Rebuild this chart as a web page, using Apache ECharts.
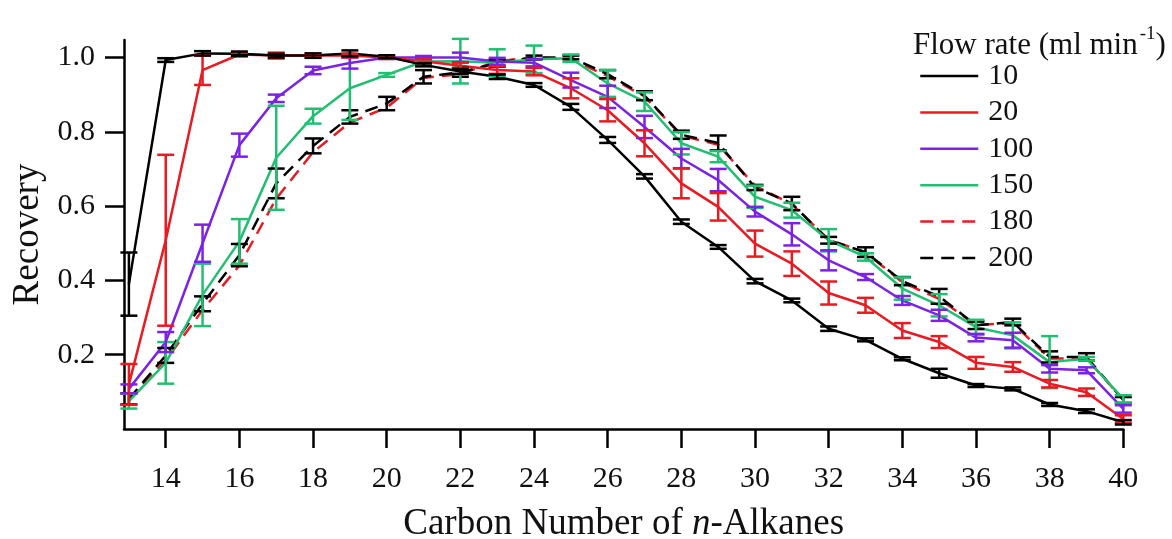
<!DOCTYPE html>
<html>
<head>
<meta charset="utf-8">
<script src="https://cdn.jsdelivr.net/npm/echarts@6.0.0/dist/echarts.min.js"></script>
<style>
  html, body { margin: 0; padding: 0; background: #fff; }
  #chart { width: 1172px; height: 539px; }
</style>
</head>
<body>
<div id="chart"></div>
<script>
// carbon numbers
var carbon = [13, 14, 15, 16, 17, 18, 19, 20, 21, 22, 23, 24, 25, 26, 27, 28, 29, 30, 31, 32, 33, 34, 35, 36, 37, 38, 39, 40];

// recovery for each flow rate (ml/min)
var rec10 = [0.39, 0.993, 1.011, 1.01, 1.005, 1.005, 1.011, 1.002, 0.98, 0.962, 0.948, 0.926, 0.867, 0.778, 0.68, 0.558, 0.49, 0.398, 0.346, 0.27, 0.24, 0.189, 0.15, 0.117, 0.108, 0.066, 0.048, 0.018];
var err10 = [0.085, 0.005, 0.006, 0.006, 0.005, 0.006, 0.008, 0.004, 0.004, 0.006, 0.006, 0.005, 0.008, 0.008, 0.006, 0.006, 0.005, 0.006, 0.005, 0.006, 0.004, 0.004, 0.012, 0.004, 0.004, 0.004, 0.005, 0.006];

var rec20 = [0.12, 0.508, 0.966, 1.008, 1.005, 1.005, 1.005, 1.0, 0.99, 0.978, 0.966, 0.962, 0.917, 0.858, 0.769, 0.661, 0.598, 0.499, 0.445, 0.366, 0.333, 0.265, 0.234, 0.178, 0.167, 0.122, 0.099, 0.027];
var err20 = [0.055, 0.23, 0.04, 0.005, 0.008, 0.005, 0.005, 0.004, 0.005, 0.008, 0.01, 0.01, 0.027, 0.03, 0.035, 0.04, 0.037, 0.035, 0.033, 0.031, 0.02, 0.02, 0.016, 0.016, 0.013, 0.01, 0.01, 0.01];

var rec100 = [0.108, 0.234, 0.5, 0.764, 0.89, 0.965, 0.985, 1.0, 1.0, 1.0, 0.989, 0.986, 0.939, 0.894, 0.813, 0.728, 0.67, 0.585, 0.524, 0.454, 0.409, 0.346, 0.306, 0.246, 0.239, 0.162, 0.158, 0.054];
var err100 = [0.012, 0.027, 0.05, 0.031, 0.01, 0.01, 0.015, 0.004, 0.004, 0.013, 0.01, 0.01, 0.02, 0.03, 0.03, 0.026, 0.03, 0.013, 0.03, 0.027, 0.008, 0.012, 0.015, 0.01, 0.02, 0.01, 0.008, 0.01];

var rec150 = [0.075, 0.178, 0.361, 0.505, 0.73, 0.842, 0.917, 0.953, 0.989, 0.99, 0.986, 0.995, 0.998, 0.93, 0.881, 0.769, 0.733, 0.625, 0.589, 0.508, 0.463, 0.378, 0.333, 0.274, 0.252, 0.18, 0.189, 0.081];
var err150 = [0.02, 0.056, 0.084, 0.06, 0.14, 0.02, 0.085, 0.005, 0.005, 0.06, 0.036, 0.037, 0.01, 0.036, 0.025, 0.03, 0.015, 0.03, 0.02, 0.03, 0.01, 0.03, 0.03, 0.02, 0.035, 0.07, 0.005, 0.01];

var rec180 = [0.08, 0.185, 0.32, 0.44, 0.62, 0.745, 0.825, 0.865, 0.945, 0.955, 0.99, 1.0, 0.995, 0.95, 0.895, 0.79, 0.765, 0.655, 0.605, 0.51, 0.475, 0.395, 0.35, 0.28, 0.285, 0.19, 0.19, 0.078];

var rec200 = [0.081, 0.198, 0.337, 0.468, 0.661, 0.762, 0.84, 0.876, 0.948, 0.96, 0.985, 1.0, 1.0, 0.955, 0.897, 0.792, 0.77, 0.65, 0.607, 0.508, 0.476, 0.398, 0.357, 0.279, 0.288, 0.194, 0.194, 0.078];
var err200 = [0.015, 0.02, 0.02, 0.03, 0.04, 0.02, 0.018, 0.018, 0.018, 0.012, 0.01, 0.005, 0.005, 0.011, 0.012, 0.011, 0.02, 0.007, 0.018, 0.009, 0.013, 0.011, 0.02, 0.01, 0.009, 0.015, 0.01, 0.008];

var xTicks = [14, 16, 18, 20, 22, 24, 26, 28, 30, 32, 34, 36, 38, 40];
var yTicks = [0.2, 0.4, 0.6, 0.8, 1.0];

var FONT = '"Liberation Serif", "Times New Roman", serif';
var RED = '#ea1a22';
var PURPLE = '#7b22e4';
var GREEN = '#22bf72';

function pairs(vals) {
    return carbon.map((c, i) => [c, vals[i]]);
}

function lineSeries(name, vals, color, dashed) {
    return {
        name: name,
        type: 'line',
        data: pairs(vals),
        symbol: 'none',
        z: 3,
        lineStyle: { color: color, width: 2.5, type: dashed ? [13, 8] : 'solid' },
        itemStyle: { color: color }
    };
}

function errSeries(name, vals, errs, color) {
    var data = carbon.map((c, i) => [c, vals[i] - errs[i], vals[i] + errs[i]]);
    return {
        name: name + ' err',
        type: 'custom',
        silent: true,
        z: 4,
        data: data,
        encode: { x: 0, y: [1, 2] },
        renderItem: function (params, api) {
            var x = api.value(0);
            var top = api.coord([x, api.value(2)]);
            var bot = api.coord([x, api.value(1)]);
            var w = 8.5;
            var style = { stroke: color, lineWidth: 2.5 };
            return {
                type: 'group',
                children: [
                    { type: 'line', shape: { x1: top[0], y1: top[1], x2: bot[0], y2: bot[1] }, style: style },
                    { type: 'line', shape: { x1: top[0] - w, y1: top[1], x2: top[0] + w, y2: top[1] }, style: style },
                    { type: 'line', shape: { x1: bot[0] - w, y1: bot[1], x2: bot[0] + w, y2: bot[1] }, style: style }
                ]
            };
        }
    };
}

var echart = echarts.init(document.getElementById('chart'));
var option = {
    animation: false,
    backgroundColor: '#fff',
    title: {
        text: '{a|Flow rate (ml min}{s|-1}{a|)}',
        left: 908,
        top: 20,
        textStyle: {
            fontWeight: 'normal',
            rich: {
                a: { fontFamily: FONT, fontSize: 31, fontWeight: 'normal', color: '#111' },
                s: { fontFamily: FONT, fontSize: 19, fontWeight: 'normal', color: '#111', padding: [0, 0, 22, 2] }
            }
        }
    },
    legend: {
        data: ['10', '20', '100', '150', '180', '200'],
        orient: 'vertical',
        left: 914,
        top: 56,
        itemWidth: 58,
        itemHeight: 14,
        itemGap: 6.4,
        itemStyle: { opacity: 0 },
        lineStyle: { width: 2.5 },
        textStyle: { fontFamily: FONT, fontSize: 30, color: '#111', lineHeight: 30, padding: [0, 0, 0, 5] }
    },
    grid: { left: 124, right: 48.7, top: 40, bottom: 110, containLabel: false, outerBoundsMode: 'none' },
    xAxis: {
        type: 'value',
        min: 12.867,
        max: 40,
        name: 'Carbon Number of {i|n}-Alkanes',
        nameLocation: 'middle',
        nameGap: 77,
        nameTextStyle: {
            fontFamily: FONT, fontSize: 37, color: '#111',
            rich: { i: { fontFamily: FONT, fontSize: 37, fontStyle: 'italic', color: '#111' } }
        },
        axisLine: { onZero: false, lineStyle: { color: '#000', width: 2.5 } },
        axisTick: { show: true, length: 19, inside: false, customValues: xTicks, lineStyle: { color: '#000', width: 2.5 } },
        axisLabel: { customValues: xTicks, margin: 35, fontFamily: FONT, fontSize: 30, color: '#111' },
        splitLine: { show: false }
    },
    yAxis: {
        type: 'value',
        min: 0,
        max: 1.047,
        name: 'Recovery',
        nameLocation: 'middle',
        nameGap: 76,
        nameTextStyle: { fontFamily: FONT, fontSize: 37, color: '#111' },
        axisLine: { show: true, onZero: false, lineStyle: { color: '#000', width: 2.5 } },
        axisTick: { show: true, length: 19, customValues: yTicks, lineStyle: { color: '#000', width: 2.5 } },
        axisLabel: {
            customValues: yTicks, margin: 29, fontFamily: FONT, fontSize: 30, color: '#111',
            formatter: function (v) { return v.toFixed(1); }
        },
        splitLine: { show: false }
    },
    series: [
        lineSeries('180', rec180, RED, true),
        lineSeries('200', rec200, '#000', true),
        errSeries('200', rec200, err200, '#000'),
        lineSeries('150', rec150, GREEN, false),
        errSeries('150', rec150, err150, GREEN),
        lineSeries('100', rec100, PURPLE, false),
        errSeries('100', rec100, err100, PURPLE),
        lineSeries('20', rec20, RED, false),
        errSeries('20', rec20, err20, RED),
        lineSeries('10', rec10, '#000', false),
        errSeries('10', rec10, err10, '#000')
    ]
};
echart.setOption(option);
</script>
</body>
</html>
